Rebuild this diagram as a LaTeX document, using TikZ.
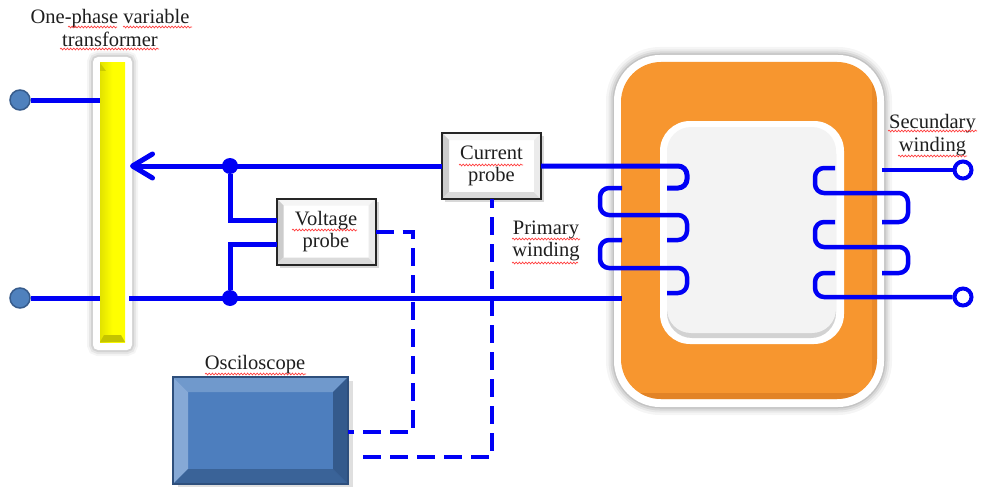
\documentclass[tikz,border=0pt]{standalone}
\usepackage{fontspec}
\setmainfont{Liberation Serif}
\usetikzlibrary{arrows.meta,calc,shadows,decorations.pathmorphing}

\definecolor{wireblue}{HTML}{0000F5}
\definecolor{coreorange}{HTML}{F7962F}
\definecolor{coredark}{HTML}{D27520}
\definecolor{windowgray}{HTML}{F3F3F3}
\definecolor{termblue}{HTML}{4F81BD}
\definecolor{termedge}{HTML}{375C8C}
\definecolor{scopeface}{HTML}{4D7EBE}
\definecolor{scopeedge}{HTML}{2E4F7C}
\definecolor{scopetop}{HTML}{7099CC}
\definecolor{scopeleft}{HTML}{86A9D6}
\definecolor{scopebottom}{HTML}{3A6398}
\definecolor{scoperight}{HTML}{345A8C}
\definecolor{barlight}{HTML}{FFFF00}
\definecolor{bardark}{HTML}{E2E200}
\definecolor{barbevel}{HTML}{C4C400}

% four-sided bevel inside a rectangular node
\newcommand\bevelrim[6]{%
  \fill[#3] (#1.north west) -- (#1.north east) -- ($(#1.north east)+(-#2,#2)$) -- ($(#1.north west)+(#2,#2)$) -- cycle;
  \fill[#4] (#1.north west) -- ($(#1.north west)+(#2,#2)$) -- ($(#1.south west)+(#2,-#2)$) -- (#1.south west) -- cycle;
  \fill[#5] (#1.south west) -- ($(#1.south west)+(#2,-#2)$) -- ($(#1.south east)+(-#2,-#2)$) -- (#1.south east) -- cycle;
  \fill[#6] (#1.south east) -- ($(#1.south east)+(-#2,-#2)$) -- ($(#1.north east)+(-#2,#2)$) -- (#1.north east) -- cycle;
}

\tikzset{
  txt/.style={font=\fontsize{20.5}{22.5}\selectfont, text=black!88},
  lbl/.style={txt, align=center, inner sep=0pt},
  wire/.style={draw=wireblue, line width=5pt},
  coil/.style={draw=wireblue, line width=4.5pt, rounded corners=9pt},
  probeline/.style={draw=wireblue, line width=4pt, dash pattern=on 18pt off 9pt},
  probebox/.style={txt, align=center, draw=black!85, line width=2pt, fill=white,
    minimum width=99pt, minimum height=66pt, inner sep=0pt, outer sep=0pt,
    drop shadow={opacity=0.3, shadow xshift=3pt, shadow yshift=-3pt}},
  scopebox/.style={draw=scopeedge, line width=1.5pt, fill=scopeface,
    minimum width=175pt, minimum height=107pt, inner sep=0pt, outer sep=0pt,
    drop shadow={opacity=0.25, shadow xshift=5pt, shadow yshift=-4pt}},
  junction/.style={circle, fill=wireblue, minimum size=16pt, inner sep=0pt},
  terminal/.style={circle, fill=termblue, draw=termedge, line width=1.5pt, minimum size=20pt, inner sep=0pt},
  outterm/.style={circle, fill=white, draw=wireblue, line width=4pt, minimum size=17pt, inner sep=0pt},
  spell/.style={draw=red!75, line width=0.7pt, decorate,
    decoration={snake, amplitude=0.9pt, segment length=3.2pt}},
}

\begin{document}
\begin{tikzpicture}[x=1pt,y=-1pt]
\useasboundingbox (0,0) rectangle (983,487);
\fill[white] (0,0) rectangle (983,487);

% ---------- transformer core ----------
\foreach \o/\w in {0.04/16, 0.05/11, 0.07/7, 0.09/3}
  \draw[black, opacity=\o, line width=\w pt, rounded corners=46pt] (614,55) rectangle (884,407);
\fill[white, rounded corners=46pt] (614,55) rectangle (884,407);
\fill[coreorange, rounded corners=40pt] (621,62) rectangle (877,399);
\begin{scope}
  \clip[rounded corners=40pt] (621,62) rectangle (877,399);
  \fill[coredark, opacity=0.55] (600,393) rectangle (900,400);
  \fill[coredark, opacity=0.35] (872,40) rectangle (880,400);
\end{scope}
% window of the core
\fill[white, rounded corners=30pt] (660,121) rectangle (844,344);
\fill[gray!35, rounded corners=25pt] (667,129) rectangle (836,338);
\fill[windowgray, rounded corners=24pt] (667,127) rectangle (836,333);

% ---------- variable transformer bar ----------
\foreach \o/\w in {0.04/12, 0.06/8, 0.08/4}
  \draw[black, opacity=\o, line width=\w pt, rounded corners=5pt] (93,57) rectangle (132,350);
\fill[white, rounded corners=5pt] (93,57) rectangle (132,350);
\node[minimum width=25pt, minimum height=279pt, inner sep=0pt, outer sep=0pt,
      left color=bardark, right color=barlight, middle color=barlight] (bar) at (112.5,202.5) {};
\fill[bardark!90!black] (bar.north west) -- ++(0,8) -- ++(6,0) -- cycle;
\fill[barbevel] (bar.south west) -- ++(4,-7) -- ($(bar.south east)+(-4,-7)$) -- (bar.south east) -- cycle;

% ---------- probes and oscilloscope ----------
\node[probebox] (vp) at (326,231.5) {Voltage\\probe};
\bevelrim{vp}{7}{gray!8}{gray!40}{gray!28}{gray!16}
\draw[black!85, line width=2pt] (vp.north west) rectangle (vp.south east);

\node[probebox] (cp) at (491.5,166) {Current\\probe};
\bevelrim{cp}{7}{gray!8}{gray!40}{gray!28}{gray!16}
\draw[black!85, line width=2pt] (cp.north west) rectangle (cp.south east);

\node[scopebox] (osc) at (260.5,430.5) {};
\bevelrim{osc}{15}{scopetop}{scopeleft}{scopebottom}{scoperight}
\draw[scopeedge, line width=1.5pt] (osc.north west) rectangle (osc.south east);
\node[lbl] (osclabel) at (255,365) {Osciloscope};

% ---------- source terminals and junctions ----------
\node[terminal] (t1) at (20,100) {};
\node[terminal] (t2) at (20,298) {};
\node[junction] (j1) at (230,166) {};
\node[junction] (j2) at (230,298) {};
\coordinate (pend) at (622,298);

\draw[wire] (t1) -- (t1 -| bar.west);
\draw[wire] (t2) -- (t2 -| bar.west);
\draw[wire] ($(t2 -| bar.east)+(4,0)$) -- (pend);
\draw[wire, -{Straight Barb[length=20pt, width=24pt, round]}] (cp.west) -- ($(bar.east |- cp.west)+(5,0)$);
\draw[wire] (j1) |- ($(vp.west)+(0,-11)$);
\draw[wire] (j2) |- ($(vp.west)+(0,13)$);

% ---------- probe leads to the oscilloscope ----------
\coordinate (vbend) at (413,432);
\coordinate (cbend) at (491.5,457);
\draw[probeline] (vp.east) -| (vbend) -- (vbend -| osc.east);
\draw[probeline, dash phase=9pt] (cp.south) -- (cbend) -- ($(cbend -| osc.east)+(14,0)$);

% ---------- primary winding ----------
\draw[coil, line width=5pt] (cp.east) -- (687,166) -- (687,188) -- (667,188);
\draw[coil] (622,188) -- (600,188) -- (600,215) -- (687,215) -- (687,240) -- (667,240);
\draw[coil] (622,240) -- (600,240) -- (600,268) -- (687,268) -- (687,293) -- (667,293);

% ---------- secondary winding ----------
\node[outterm] (s1) at (963,170) {};
\node[outterm] (s2) at (963,297) {};
\draw[coil] (882,170) -- (s1);
\draw[coil] (835,168) -- (815,168) -- (815,193) -- (908,193) -- (908,222) -- (882,222);
\draw[coil] (835,222) -- (815,222) -- (815,247) -- (908,247) -- (908,273) -- (882,273);
\draw[coil] (835,273) -- (815,273) -- (815,297) -- (s2);

% ---------- labels ----------
\node[lbl] (title) at (110,28) {One-phase variable\\transformer};
\node[lbl] (prim) at (546,241) {Primary\\winding};
\node[lbl] (sec) at (932.5,135) {Secundary\\winding};

% spelling marks under the words
\draw[spell] (68,27) -- (117,27);
\draw[spell] (123,27) -- (192,27);
\draw[spell] (60,49) -- (159,49);
\draw[spell] (292,230) -- (357,230);
\draw[spell] (459,165) -- (523,165);
\draw[spell] (512,239) -- (580,239);
\draw[spell] (512,263) -- (578,263);
\draw[spell] (888,131) -- (977,131);
\draw[spell] (898,156) -- (967,156);
\draw[spell] (205,374) -- (306,374);
\end{tikzpicture}
\end{document}
